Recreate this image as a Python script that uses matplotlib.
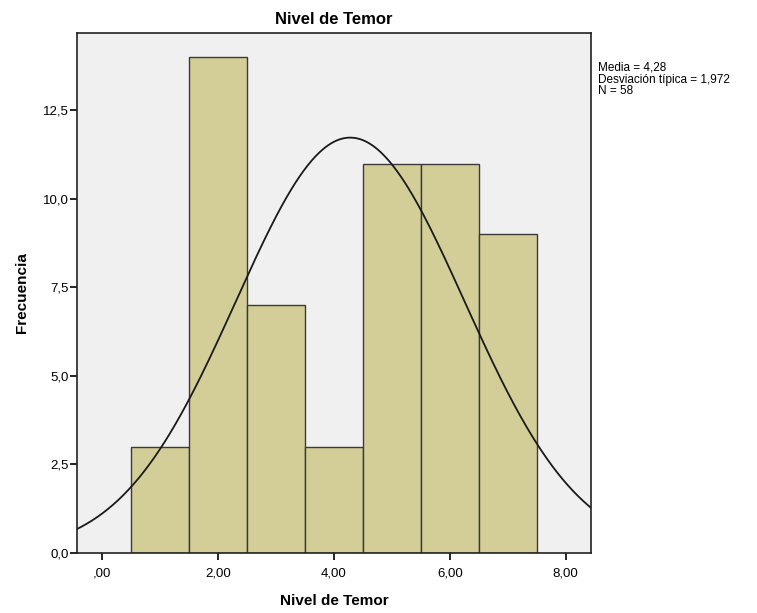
import numpy as np
import matplotlib
matplotlib.use("Agg")
import matplotlib.pyplot as plt
from matplotlib.ticker import FuncFormatter

plt.rcParams['font.family'] = ['Liberation Sans', 'DejaVu Sans']

# histogram bins (centers) and counts
bin_centers = [1, 2, 3, 4, 5, 6, 7]
counts = [3, 14, 7, 3, 11, 11, 9]
media = 4.28
desv = 1.972
n_total = 58

x_ticks = [0, 2, 4, 6, 8]
y_ticks = [0, 2.5, 5, 7.5, 10, 12.5]

fig = plt.figure(figsize=(7.57, 6.13), dpi=100)
ax = fig.add_axes([0.1017, 0.0984, 0.6790, 0.8483])
ax.set_facecolor('#F0F0F0')

ax.bar(bin_centers, counts, width=1.0, color='#D3CE98', edgecolor='#3A3A3A',
       linewidth=1.0, zorder=2)

# normal curve scaled to counts (bin width 1)
xs = np.linspace(-0.44, 8.44, 400)
ys = n_total * 1.0 / (desv * np.sqrt(2 * np.pi)) * np.exp(-0.5 * ((xs - media) / desv) ** 2)
ax.plot(xs, ys, color='#1A1A1A', linewidth=1.3, zorder=3)

ax.set_xlim(-0.44, 8.44)
ax.set_ylim(0, 14.7)
ax.set_xticks(x_ticks)
ax.set_yticks(y_ticks)


def fmt_x(v, pos):
    s = f"{v:.2f}".replace('.', ',')
    if s.startswith('0,'):
        s = s[1:]
    return s


def fmt_y(v, pos):
    return f"{v:.1f}".replace('.', ',')


ax.xaxis.set_major_formatter(FuncFormatter(fmt_x))
ax.yaxis.set_major_formatter(FuncFormatter(fmt_y))
ax.tick_params(axis='both', direction='out', length=5, width=1.2, labelsize=9.5,
               colors='black', top=False, right=False)
ax.tick_params(axis='x', pad=6)
ax.tick_params(axis='y', pad=1)

for sp in ax.spines.values():
    sp.set_color('#222222')
    sp.set_linewidth(1.2)

ax.set_title('Nivel de Temor', fontsize=12, fontweight='bold', pad=6)
ax.set_xlabel('Nivel de Temor', fontsize=11, fontweight='bold', labelpad=10)
ax.set_ylabel('Frecuencia', fontsize=11, fontweight='bold', labelpad=10)

fig.text(598 / 757, 1 - 62 / 613,
         f"Media = {media:.2f}".replace('.', ',') + "\n"
         + f"Desviación típica = {desv:.3f}".replace('.', ',') + "\n"
         + f"N = {n_total}",
         fontsize=8.5, va='top', ha='left', linespacing=0.95)

fig.savefig('out.png', dpi=100)
